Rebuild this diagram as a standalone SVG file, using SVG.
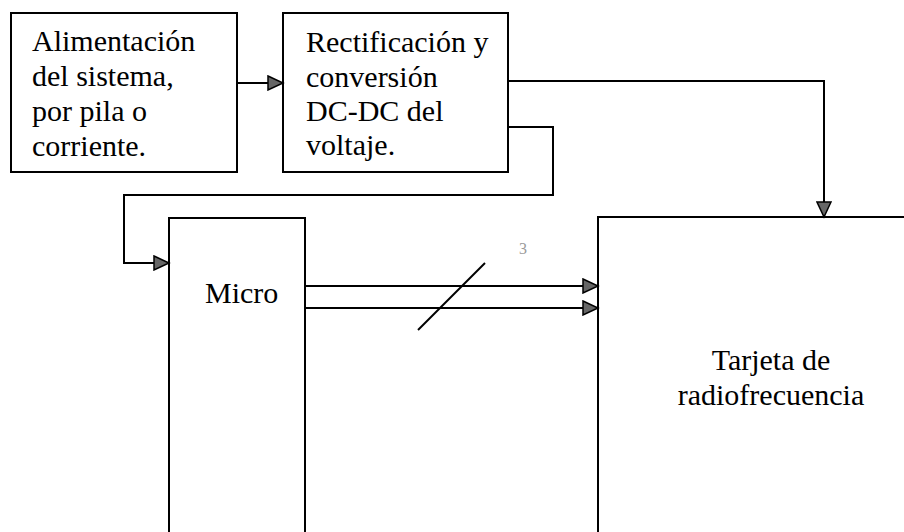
<svg xmlns="http://www.w3.org/2000/svg" width="904" height="532" viewBox="0 0 904 532">
<style>
.box{fill:#fff;stroke:#000;stroke-width:2}
.t{font-family:'Liberation Serif','Times New Roman',serif;font-size:30px;fill:#000}
.c{fill:none;stroke:#000;stroke-width:2}
.lbl{font-family:'Liberation Serif','Times New Roman',serif;font-size:16px;fill:#9a9a9a}
</style>
<defs>
<marker id="arr" markerUnits="userSpaceOnUse" markerWidth="18" markerHeight="16" viewBox="-1 -1 18 16" refX="15" refY="7" orient="auto">
<path d="M0,0 L15,7 L0,14 Z" fill="#666" stroke="#000" stroke-width="1.5" stroke-linejoin="miter"/>
</marker>
</defs>
<rect width="904" height="532" fill="#fff"/>
<g id="alimentacion">
<rect class="box" x="11" y="13" width="226" height="159"/>
<text class="t" x="32" y="51">Alimentación</text>
<text class="t" x="32" y="86">del sistema,</text>
<text class="t" x="32" y="121">por pila o</text>
<text class="t" x="32" y="156">corriente.</text>
</g>
<g id="rectificacion">
<rect class="box" x="283" y="13" width="225" height="159"/>
<text class="t" x="306" y="52">Rectificación y</text>
<text class="t" x="306" y="87">conversión</text>
<text class="t" x="306" y="121">DC-DC del</text>
<text class="t" x="306" y="155">voltaje.</text>
</g>
<g id="micro">
<rect class="box" x="169" y="218" width="136" height="330"/>
<text class="t" x="205" y="303">Micro</text>
</g>
<g id="tarjeta">
<rect class="box" x="598" y="217" width="330" height="330"/>
<text class="t" x="771" y="370" text-anchor="middle">Tarjeta de</text>
<text class="t" x="771" y="405" text-anchor="middle">radiofrecuencia</text>
</g>
<g id="connectors">
<path class="c" d="M237,83 L283,83" marker-end="url(#arr)"/>
<path class="c" d="M508,81 L824,81 L824,217" marker-end="url(#arr)"/>
<path class="c" d="M508,127 L553,127 L553,195 L124,195 L124,263 L169,263" marker-end="url(#arr)"/>
<path class="c" d="M305,286 L598,286" marker-end="url(#arr)"/>
<path class="c" d="M305,308 L598,308" marker-end="url(#arr)"/>
<path class="c" d="M418,330 L485,263"/>
<text class="lbl" x="519" y="254">3</text>
</g>
</svg>
